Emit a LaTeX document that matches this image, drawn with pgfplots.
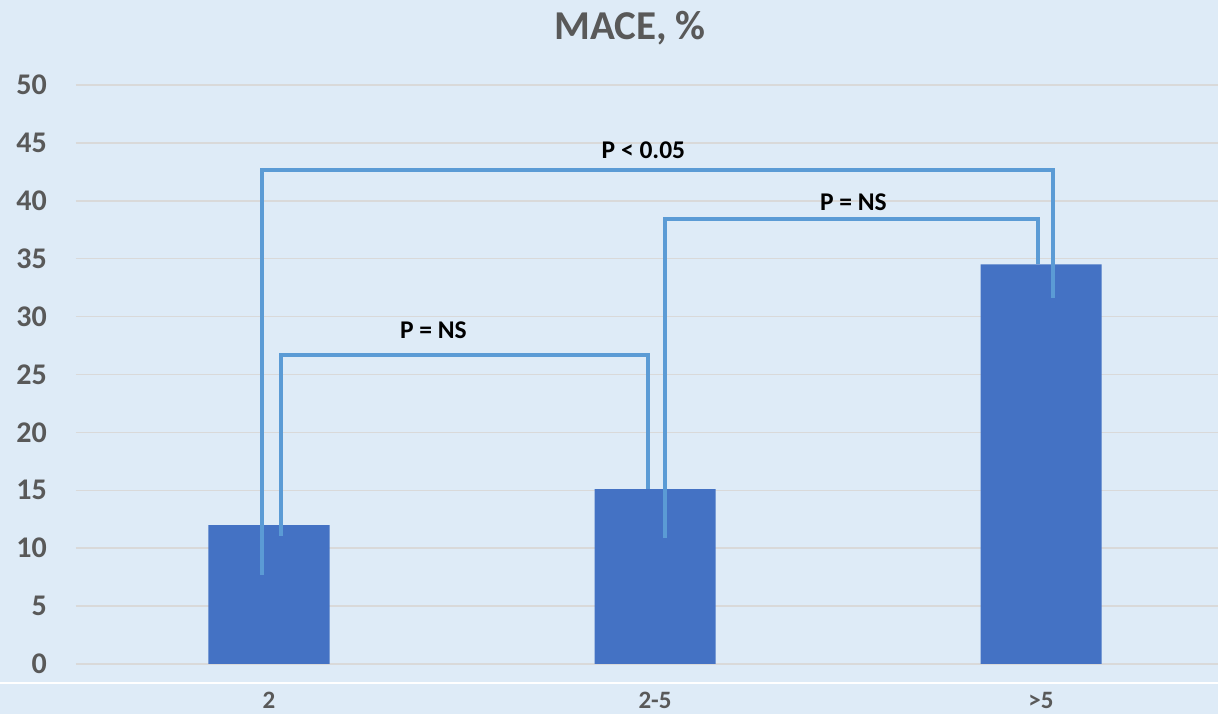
\documentclass[border=0pt]{standalone}
\usepackage{pgfplots}
\pgfplotsset{compat=1.18}
\usepackage{fontspec}
\setmainfont{Carlito}
\definecolor{bg}{HTML}{DEEBF7}
\definecolor{barblue}{HTML}{4472C4}
\definecolor{brk}{HTML}{5B9BD5}
\definecolor{txt}{HTML}{595959}
\definecolor{gridc}{HTML}{D9D9D9}
\begin{document}
\begin{tikzpicture}
\useasboundingbox (-76pt,-50pt) rectangle (1142pt,664pt);
\fill[bg] (-76pt,-50pt) rectangle (1142pt,664pt);
\draw[white, line width=1.5pt] (-76pt,-19pt) -- (1142pt,-19pt);
\begin{axis}[
  at={(0pt,0pt)}, anchor=south west,
  scale only axis, width=1142pt, height=579pt,
  xmin=-0.5, xmax=2.4585, ymin=0, ymax=50,
  axis line style={draw=none},
  ytick={0,5,...,50}, xtick={0,1,2}, xticklabels={2,2-5,>5},
  tick style={draw=none},
  ymajorgrids, grid style={gridc, line width=1.5pt},
  /pgf/number format/assume math mode=true,
  yticklabel style={font=\fontsize{30}{30}\selectfont\bfseries, text=txt, anchor=east, inner sep=0pt, xshift=-29pt},
  xticklabel style={font=\fontsize{25}{25}\selectfont\bfseries, text=txt, anchor=center, inner sep=0pt, yshift=-36pt},
  clip=false,
]
\addplot[ybar, fill=barblue, draw=none, bar width=0.3135] coordinates {(0,12) (1,15.1) (2,34.5)};
\addplot[brk, line width=4pt, line join=miter] coordinates {(-0.017,7.7) (-0.017,42.7) (2.032,42.7) (2.032,31.6)};
\addplot[brk, line width=4pt, line join=miter] coordinates {(0.030,11.05) (0.030,26.7) (0.983,26.7) (0.983,15.1)};
\addplot[brk, line width=4pt, line join=miter] coordinates {(1.027,10.9) (1.027,38.4) (1.991,38.4) (1.991,34.5)};
\node[font=\fontsize{25.5}{25.5}\selectfont\bfseries, text=black] at (axis cs:0.97,44.4) {P < 0.05};
\node[font=\fontsize{25.5}{25.5}\selectfont\bfseries, text=black] at (axis cs:0.426,28.8) {P = NS};
\node[font=\fontsize{25.5}{25.5}\selectfont\bfseries, text=black] at (axis cs:1.514,39.9) {P = NS};
\end{axis}
\node[font=\fontsize{41}{41}\selectfont\bfseries, text=txt] at (554pt,636pt) {MACE, \%};
\end{tikzpicture}
\end{document}
